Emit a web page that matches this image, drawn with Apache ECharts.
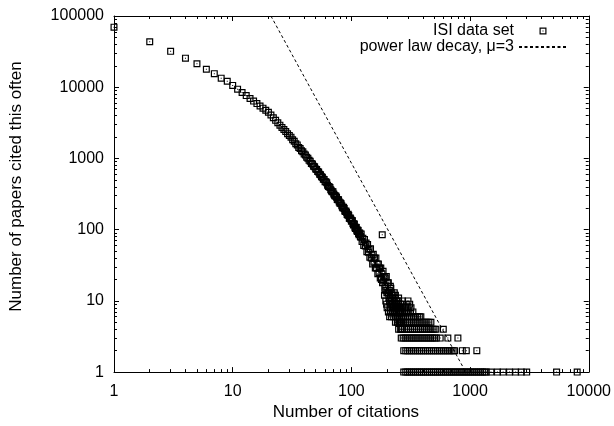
<!DOCTYPE html>
<html><head><meta charset="utf-8">
<script src="https://cdn.jsdelivr.net/npm/echarts@6/dist/echarts.min.js"></script>
<style>html,body{margin:0;padding:0;background:#fff}#c{width:614px;height:426px}</style>
</head><body><div id="c"></div>
<script>
// ---- data ----
const curveCitations = [
  1,2,3,4,5,6,7,8,9,10,11,12,13,14,15,16,17,18,19,20,21,22,23,24,25,26,27,28,29,30,
  31,32,33,34,35,36,37,38,39,40,41,42,43,44,45,46,47,48,49,50,51,52,53,54,55,56,57,58,59,60,
  61,62,63,64,65,66,67,68,69,70,71,72,73,74,75,76,77,78,79,80,81,82,83,84,85,86,87,88,89,90,
  91,92,93,94,95,96,97,98,99,100,101,102,103,104,105,106,107,108,109,110,111,112,113,114,115,116,117,118,119,120,
  121,123,125,127,129,131,133,135,137,139,141,143,145,147,149,151,153,155,157,159,161,163,165,167,169,171,173,175,177,179,
  181,183,185,187,189,191,193,195,197,199,201,203,205,207,209,211,213,215,217,219,221,223,225,227,229,231,233,235,237,239,
  241,243,245,247,249,251,253,255,257,259,261,263,265,267,269
];
const curvePapers = [
  69700,43500,31900,25600,21400,17900,15500,13400,12100,10600,9400,8430,7630,6960,6380,5890,5460,5080,4750,4460,4075,3720,3425,3165,2935,2730,2545,2380,2230,2105,
  1990,1830,1745,1610,1550,1430,1380,1280,1240,1150,1120,1040,1010,940,915,850,835,780,765,710,700,655,645,598,590,552,545,510,505,472,
  470,455,420,405,400,392,362,350,342,340,318,305,296,298,285,266,262,262,244,235,236,232,216,207,202,206,198,183,180,183,
  176,163,160,164,158,145,144,146,140,131,134,133,122,116,121,119,108,104,108,107,98,94,99,97,88,85,90,89,80,78,
  87,68,76,60,73,59,65,49,62,48,53,41,54,40,44,33,45,35,40,29,40,29,33,24,33,25,29,21,29,20,
  24,18,26,19,22,15,21,16,22,13,18,13,18,11,14,10,16,11,13,9,12,9,12,8,10,7,11,8,9,7,
  10,6,8,6,9,5,7,6,8,5,7,4,6,5,7
];
// citation counts that were received by exactly k papers (k = 1..10)
const citedOnce  = [276,287,298,310,322,335,348,362,376,390,405,421,438,455,473,491,510,530,551,572,595,618,642,667,693,720,748,777,808,839,872,906,941,978,1016,1056,1097,1140,1185,1231,1280,1330,1370,1500,1700,1900,2150,2420,2700,3000,5360,7990];
const citedTwice = [276,287,298,310,322,335,348,362,376,390,405,421,438,455,473,491,510,530,551,572,595,618,642,667,693,720,740,860,930,1140];
const citedThrice = [263,273,284,295,307,319,331,344,357,371,386,401,417,433,450,467,485,504,520,560,650,790];
const citedFour  = [250,260,270,281,292,303,315,327,340,353,367,381,396,411,427,444,461,479,497,515,595];
const citedFive  = [235,244,254,264,274,285,296,307,319,332,345,358,372,386,401,417,433,450,468];
const citedSix   = [210,218,227,236,245,255,265,275,286,297,308,320,333,346,360,374,385];
const citedSeven = [205,213,222,231,240,249,259,269,280,291,302,315,330];
const citedEight = [200,212,226,240,255,270,285,300,318];
const citedNine  = [198,215,232,250,268,290,310];
const citedTen   = [195,210,228,248,270,300];
const bandCitations = [190,205,220,235,250,195,215,230,182];
const bandPapers    = [12,13,11,12,11,14,15,13,85];
// power law decay, mu = 3 (end points on the frame)
const lawCitations = [21, 920];
const lawPapers = [100000, 1];
// axis ticks
const xTicks = [1,10,100,1000,10000];
const yTicks = [1,10,100,1000,10000,100000];

// ---- build ----
function minorOf(decades){
  const out=[];
  for(let i=0;i<decades.length-1;i++) for(let k=2;k<=9;k++) out.push(k*decades[i]);
  return out;
}
const xMinor = minorOf(xTicks), yMinor = minorOf(yTicks);

const rows = [citedOnce,citedTwice,citedThrice,citedFour,citedFive,citedSix,citedSeven,citedEight,citedNine,citedTen];
const isiData = curveCitations.map((n,i)=>[n,curvePapers[i]]);
rows.forEach((arr,k)=>arr.forEach(n=>isiData.push([n,k+1])));
bandCitations.forEach((n,i)=>isiData.push([n,bandPapers[i]]));
const lawData = lawCitations.map((n,i)=>[n,lawPapers[i]]);

const FONT = 'Liberation Sans';
const boxDot = 'path://M0,0H14V14H0Z M2.4,2.4V11.6H11.6V2.4Z M6,6H8V8H6Z';
const lineStyle = {color:'#000', width:1};

function mkAxis(kind, pos, major, ticks, extra){
  const range = kind==='x' ? {min:1,max:10000} : {min:1,max:100000};
  return Object.assign({
    type:'log', logBase:10, position:pos, ...range,
    axisLine:{show:major, onZero:false, lineStyle},
    axisTick:{show:true, inside:true, length: major?5:3, customValues:ticks, lineStyle},
    axisLabel:{show:false},
    splitLine:{show:false}, minorTick:{show:false}
  }, extra||{});
}
const labelStyle = (ticks, m)=>({show:true, customValues:ticks, fontFamily:FONT, fontSize:16, color:'#000', margin:m,
  formatter:(v)=>String(Math.round(v))});

const chart = echarts.init(document.getElementById('c'), null, {renderer:'canvas'});
chart.setOption({
  animation:false,
  backgroundColor:'#fff',
  grid:{left:111, right:20, top:16, bottom:49, containLabel:false},
  xAxis:[
    mkAxis('x','bottom',true,xTicks,{axisLabel:labelStyle(xTicks,11), name:'Number of citations', nameLocation:'middle', nameGap:31,
      nameTextStyle:{fontFamily:FONT, fontSize:17, color:'#000', padding:[0,11,0,0]}}),
    mkAxis('x','bottom',false,xMinor),
    mkAxis('x','top',true,xTicks),
    mkAxis('x','top',false,xMinor)
  ],
  yAxis:[
    mkAxis('y','left',true,yTicks,{axisLabel:labelStyle(yTicks,10), name:'Number of papers cited this often', nameLocation:'middle', nameGap:89,
      nameTextStyle:{fontFamily:FONT, fontSize:17, color:'#000', padding:[0,0,0,15]}}),
    mkAxis('y','left',false,yMinor),
    mkAxis('y','right',true,yTicks),
    mkAxis('y','right',false,yMinor)
  ],
  legend:{
    orient:'vertical', right:41, top:18, align:'right', itemWidth:48, itemHeight:7, itemGap:0,
    selectedMode:false,
    textStyle:{fontFamily:FONT, fontSize:16, color:'#000', lineHeight:16},
    data:[{name:'ISI data set', icon:boxDot}, {name:'power law decay, \u03bc=3'}]
  },
  series:[
    {name:'power law decay, \u03bc=3', type:'line', data:lawData, xAxisIndex:0, yAxisIndex:0,
      symbol:'none', clip:false, lineStyle:{color:'#000', width:1, type:[3,2.5]},
      itemStyle:{color:'rgba(0,0,0,0)', borderWidth:0, borderColor:'rgba(0,0,0,0)'}},
    {name:'ISI data set', type:'scatter', data:isiData, xAxisIndex:0, yAxisIndex:0,
      symbol:boxDot, symbolSize:7, clip:false, itemStyle:{color:'#000', opacity:1}}
  ]
});
</script></body></html>
